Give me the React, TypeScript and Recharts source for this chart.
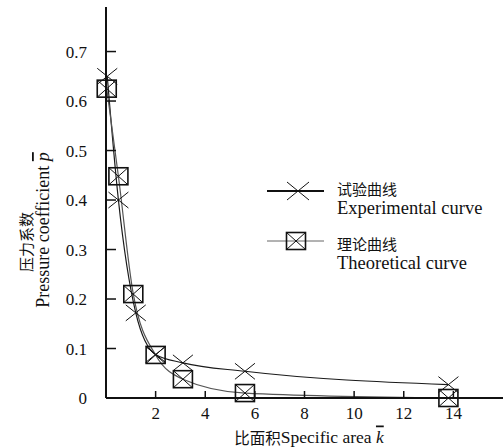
import { LineChart, Line, XAxis, YAxis } from "recharts";

// specific area k (x) and pressure coefficient p (y)
const expK = [0.05, 0.5, 1.2, 2, 3.1, 5.6, 13.8];
const expP = [0.65, 0.4, 0.172, 0.088, 0.071, 0.054, 0.027];
const theoK = [0.03, 0.5, 1.1, 2, 3.1, 5.6, 13.8];
const theoP = [0.625, 0.448, 0.21, 0.087, 0.038, 0.01, 0];

const xTicks = [2, 4, 6, 8, 10, 12, 14];
const yTicks = [0, 0.1, 0.2, 0.3, 0.4, 0.5, 0.6, 0.7];

const expData = expK.map((k, i) => ({ k, p: expP[i] }));
const theoData = theoK.map((k, i) => ({ k, p: theoP[i] }));

const SERIF = "'Liberation Serif', 'Times New Roman', serif";
const CJK = "'Noto Sans CJK SC', sans-serif";
const INK = "#111";

function Cross({ cx, cy, w = 20, h = 16 }: { cx: number; cy: number; w?: number; h?: number }) {
    return (
        <g stroke={INK} strokeWidth={1}>
            <line x1={cx - w / 2} y1={cy - h / 2} x2={cx + w / 2} y2={cy + h / 2} />
            <line x1={cx - w / 2} y1={cy + h / 2} x2={cx + w / 2} y2={cy - h / 2} />
        </g>
    );
}

function BoxCross({ cx, cy }: { cx: number; cy: number }) {
    const w = 19;
    const h = 17;
    return (
        <g stroke={INK} fill="none">
            <rect x={cx - w / 2} y={cy - h / 2} width={w} height={h} strokeWidth={1.6} />
            <line x1={cx - w / 2} y1={cy - h / 2} x2={cx + w / 2} y2={cy + h / 2} strokeWidth={1} />
            <line x1={cx - w / 2} y1={cy + h / 2} x2={cx + w / 2} y2={cy - h / 2} strokeWidth={1} />
        </g>
    );
}

function Overlay() {
    return (
        <svg
            width={503}
            height={447}
            style={{ position: "absolute", left: 0, top: 0, pointerEvents: "none" }}
        >
            {/* y title */}
            <text
                transform="translate(25 242) rotate(-90)"
                textAnchor="middle"
                dominantBaseline="central"
                fontFamily={CJK}
                fontSize={15}
                fill={INK}
            >
                压力系数
            </text>
            <text
                transform="translate(43 230) rotate(-90)"
                textAnchor="middle"
                dominantBaseline="central"
                fontFamily={SERIF}
                fontSize={18}
                fill={INK}
            >
                Pressure coefficient{" "}
                <tspan fontStyle="italic" style={{ textDecoration: "overline" }}>p</tspan>
            </text>

            {/* x title */}
            <text x={309} y={436.5} textAnchor="middle" dominantBaseline="central" fontFamily={SERIF} fontSize={17.5} fill={INK}>
                <tspan fontFamily={CJK} fontSize={15.5}>比面积</tspan>
                Specific area{" "}
                <tspan fontStyle="italic" style={{ textDecoration: "overline" }}>k</tspan>
            </text>

            {/* legend */}
            <line x1={267} y1={191} x2={324} y2={191} stroke={INK} strokeWidth={2} />
            <Cross cx={298} cy={191} w={22} h={18} />
            <text x={337} y={188} dominantBaseline="central" fontFamily={CJK} fontSize={15} fill={INK}>试验曲线</text>
            <text x={337} y={208} dominantBaseline="central" fontFamily={SERIF} fontSize={18.5} fill={INK}>Experimental curve</text>

            <line x1={267} y1={241} x2={324} y2={241} stroke="#666" strokeWidth={1} />
            <BoxCross cx={296} cy={241} />
            <text x={337} y={243} dominantBaseline="central" fontFamily={CJK} fontSize={15} fill={INK}>理论曲线</text>
            <text x={337} y={263} dominantBaseline="central" fontFamily={SERIF} fontSize={18.5} fill={INK}>Theoretical curve</text>
        </svg>
    );
}

export default function App() {
    return (
        <div style={{ position: "absolute", left: 0, top: 0, width: 503, height: 447, background: "#fff" }}>
            <LineChart width={503} height={447} margin={{ top: 7, right: 0, bottom: 0, left: 0 }}>
                <XAxis
                    type="number"
                    dataKey="k"
                    domain={[0, 16]}
                    ticks={xTicks}
                    interval={0}
                    height={49}
                    axisLine={{ stroke: INK, strokeWidth: 2 }}
                    tickLine={{ stroke: INK, strokeWidth: 1.5 }}
                    tickSize={-7}
                    tickMargin={16}
                    tick={{ fill: INK, fontSize: 17, fontFamily: SERIF }}
                />
                <YAxis
                    type="number"
                    dataKey="p"
                    domain={[0, 0.79]}
                    ticks={yTicks}
                    interval={0}
                    width={106}
                    axisLine={{ stroke: INK, strokeWidth: 2 }}
                    tickLine={{ stroke: INK, strokeWidth: 1.5 }}
                    tickSize={-10}
                    tickMargin={29}
                    tick={{ fill: INK, fontSize: 17, fontFamily: SERIF }}
                    tickFormatter={(v: number) => (v === 0 ? "0" : v.toFixed(1))}
                />
                <Line
                    data={expData}
                    dataKey="p"
                    type="monotone"
                    stroke="#1a1a1a"
                    strokeWidth={1.2}
                    dot={(props: any) => <Cross key={`e-${props.index}`} cx={props.cx} cy={props.cy} />}
                    activeDot={false}
                    isAnimationActive={false}
                />
                <Line
                    data={theoData}
                    dataKey="p"
                    type="monotone"
                    stroke="#555"
                    strokeWidth={1.2}
                    dot={(props: any) => <BoxCross key={`t-${props.index}`} cx={props.cx} cy={props.cy} />}
                    activeDot={false}
                    isAnimationActive={false}
                />
            </LineChart>
            <Overlay />
        </div>
    );
}
